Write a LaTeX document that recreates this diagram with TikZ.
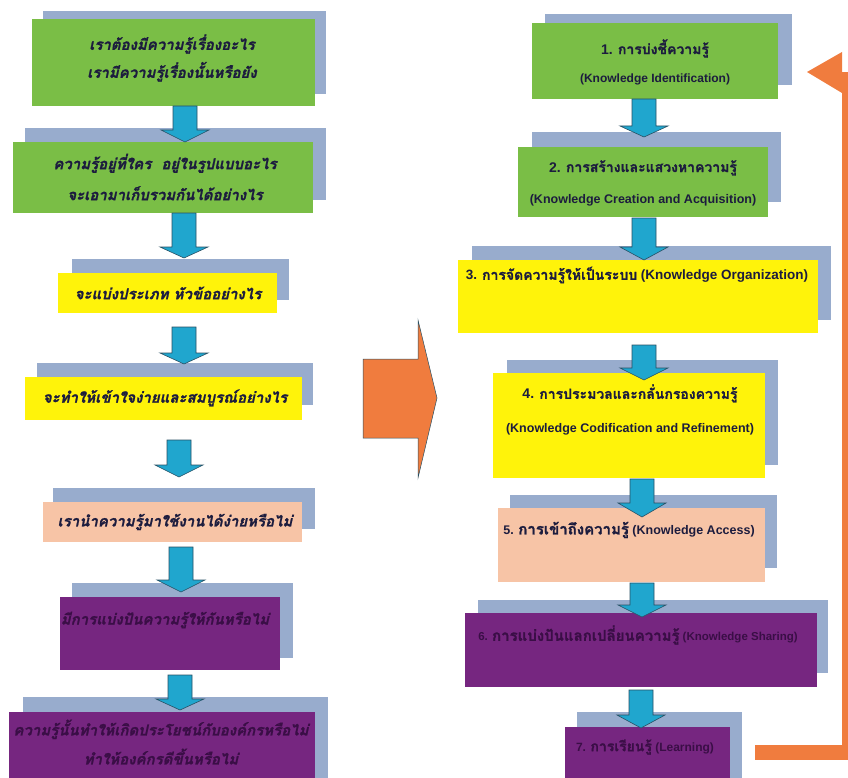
\documentclass[tikz,border=0pt]{standalone}
\usepackage{fontspec}
\setmainfont{Liberation Sans}
\newfontfamily\thaifont[Script=Thai, FakeBold=1.2]{Loma}
\newcommand{\kmth}[1]{{\thaifont #1}}
\definecolor{kmgreen}{RGB}{122,190,70}
\definecolor{kmshadow}{RGB}{152,172,205}
\definecolor{kmyellow}{RGB}{255,243,10}
\definecolor{kmpeach}{RGB}{247,196,166}
\definecolor{kmpurple}{RGB}{118,38,128}
\definecolor{kmcyan}{RGB}{32,166,206}
\definecolor{kmcyanline}{RGB}{40,80,100}
\definecolor{kmorange}{RGB}{240,124,62}
\definecolor{kmtext}{RGB}{28,28,62}
\definecolor{kmptext}{RGB}{58,14,70}
\newcommand{\kmarrow}[4]{%
  \filldraw[kmarrowstyle] (#1-12,#2) -- (#1+12,#2) -- (#1+12,#3) -- (#1+24,#3) -- (#1,#4) -- (#1-24,#3) -- (#1-12,#3) -- cycle;}
\begin{document}
\begin{tikzpicture}[x=1pt,y=-1pt,
  kmbox/.style={rectangle, draw=none, inner sep=0pt, anchor=north west},
  kmshad/.style={fill=kmshadow},
  kmarrowstyle/.style={fill=kmcyan, draw=kmcyanline, line width=0.6pt},
  lefttext/.style={inner sep=0pt, align=center, text=kmtext,
     font=\thaifont\bfseries\itshape\fontsize{15}{28}\selectfont},
  righttext/.style={inner sep=0pt, align=center, text=kmtext,
     font=\bfseries\fontsize{12}{28}\selectfont}]
\useasboundingbox (0,0) rectangle (848,778);
\fill[white] (0,0) rectangle (848,778);
% ---------- shadows ----------
\fill[kmshad] (43,11) rectangle (326,94);
\fill[kmshad] (25,128) rectangle (326,200);
\fill[kmshad] (72,259) rectangle (289,300);
\fill[kmshad] (37,363) rectangle (313,405);
\fill[kmshad] (53,488) rectangle (315,529);
\fill[kmshad] (72,583) rectangle (293,658);
\fill[kmshad] (23,697) rectangle (328,778);
\fill[kmshad] (545,14) rectangle (792,85);
\fill[kmshad] (532,132) rectangle (781,202);
\fill[kmshad] (472,246) rectangle (831,320);
\fill[kmshad] (507,360) rectangle (778,465);
\fill[kmshad] (510,495) rectangle (777,568);
\fill[kmshad] (478,600) rectangle (828,673);
\fill[kmshad] (577,712) rectangle (742,778);
% ---------- left boxes ----------
\node[kmbox, fill=kmgreen, minimum width=283, minimum height=87] (l1) at (32,19) {};
\node[kmbox, fill=kmgreen, minimum width=300, minimum height=71] (l2) at (13,142) {};
\node[kmbox, fill=kmyellow, minimum width=219, minimum height=40] (l3) at (58,273) {};
\node[kmbox, fill=kmyellow, minimum width=277, minimum height=43] (l4) at (25,377) {};
\node[kmbox, fill=kmpeach, minimum width=259, minimum height=40] (l5) at (43,502) {};
\node[kmbox, fill=kmpurple, minimum width=220, minimum height=73] (l6) at (60,597) {};
\node[kmbox, fill=kmpurple, minimum width=306, minimum height=70] (l7) at (9,712) {};
% ---------- right boxes ----------
\node[kmbox, fill=kmgreen, minimum width=246, minimum height=76] (r1) at (532,23) {};
\node[kmbox, fill=kmgreen, minimum width=250, minimum height=70] (r2) at (518,147) {};
\node[kmbox, fill=kmyellow, minimum width=360, minimum height=73] (r3) at (458,260) {};
\node[kmbox, fill=kmyellow, minimum width=272, minimum height=105] (r4) at (493,373) {};
\node[kmbox, fill=kmpeach, minimum width=267, minimum height=74] (r5) at (498,508) {};
\node[kmbox, fill=kmpurple, minimum width=352, minimum height=74] (r6) at (465,613) {};
\node[kmbox, fill=kmpurple, minimum width=165, minimum height=55] (r7) at (565,727) {};
% ---------- left texts ----------
\node[lefttext] (l1t) at (172,58) {เราต้องมีความรู้เรื่องอะไร\\เรามีความรู้เรื่องนั้นหรือยัง};
\node[lefttext, font=\thaifont\bfseries\itshape\fontsize{15}{31}\selectfont] (l2t) at (165,177) {ความรู้อยู่ที่ใคร\ \ อยู่ในรูปแบบอะไร\\จะเอามาเก็บรวมกันได้อย่างไร};
\node[lefttext] (l3t) at (168,293) {จะแบ่งประเภท หัวข้ออย่างไร};
\node[lefttext] (l4t) at (165,398) {จะทำให้เข้าใจง่ายและสมบูรณ์อย่างไร};
\node[lefttext] (l5t) at (175,522) {เรานำความรู้มาใช้งานได้ง่ายหรือไม่};
\node[lefttext, text=kmptext] (l6t) at (165,620) {มีการแบ่งปันความรู้ให้กันหรือไม่};
\node[lefttext, text=kmptext, font=\thaifont\bfseries\itshape\fontsize{15}{29}\selectfont] (l7t) at (161,742) {ความรู้นั้นทำให้เกิดประโยชน์กับองค์กรหรือไม่\\ทำให้องค์กรดีขึ้นหรือไม่};
% ---------- right texts ----------
\node[righttext] (r1t) at (655,62) {{\fontsize{14}{28}\selectfont 1. \kmth{การบ่งชี้ความรู้}}\\(Knowledge Identification)};
\node[righttext, font=\bfseries\fontsize{12.5}{31}\selectfont] (r2t) at (643,183) {{\fontsize{14}{31}\selectfont 2. \kmth{การสร้างและแสวงหาความรู้}}\\(Knowledge Creation and Acquisition)};
\node[righttext, font=\bfseries\fontsize{13.5}{20}\selectfont] (r3t) at (637,275) {3. {\fontsize{14}{20}\selectfont\kmth{การจัดความรู้ให้เป็นระบบ}} (Knowledge Organization)};
\node[righttext, font=\bfseries\fontsize{12.5}{34}\selectfont] (r4t) at (630,410) {{\fontsize{14}{34}\selectfont 4. \kmth{การประมวลและกลั่นกรองความรู้}}\\(Knowledge Codification and Refinement)};
\node[righttext, font=\bfseries\fontsize{12.5}{20}\selectfont] (r5t) at (629,530) {5. {\fontsize{15}{20}\selectfont\kmth{การเข้าถึงความรู้}} (Knowledge Access)};
\node[righttext, text=kmptext, font=\bfseries\fontsize{11.5}{20}\selectfont] (r6t) at (638,635) {6. {\fontsize{15}{20}\selectfont\kmth{การแบ่งปันแลกเปลี่ยนความรู้}} (Knowledge Sharing)};
\node[righttext, text=kmptext, font=\bfseries\fontsize{12}{20}\selectfont] (r7t) at (645,747) {7. {\fontsize{14}{20}\selectfont\kmth{การเรียนรู้}} (Learning)};
% ---------- cyan block arrows ----------
\kmarrow{185}{106}{130}{142}
\kmarrow{184}{213}{247}{258}
\kmarrow{184}{327}{353}{364}
\kmarrow{179}{440}{465}{477}
\kmarrow{181}{547}{580}{592}
\kmarrow{180}{675}{699}{710}
\kmarrow{644}{99}{126}{137}
\kmarrow{644}{218}{247}{260}
\kmarrow{644}{345}{368}{380}
\kmarrow{642}{479}{503}{517}
\kmarrow{642}{583}{605}{617}
\kmarrow{641}{690}{715}{728}
% ---------- big orange arrow ----------
\filldraw[fill=kmorange, draw=kmcyanline, line width=0.5pt]
  (363,359) -- (418,359) -- (418,320) -- (437,398) -- (418,478) -- (418,438) -- (363,438) -- cycle;
% ---------- feedback arrow ----------
\coordinate (fbstart) at (755,745);
\coordinate (fbend) at (807,72);
\fill[kmorange] (fbstart) rectangle (848,760);
\fill[kmorange] (842,72) rectangle (848,760);
\fill[kmorange] (fbend) -- (842,52) -- (842,93) -- cycle;
\end{tikzpicture}
\end{document}
